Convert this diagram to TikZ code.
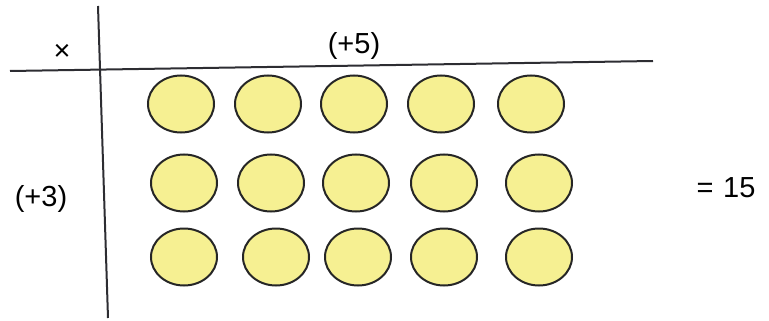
\documentclass[tikz,border=0pt]{standalone}
\usepackage{fontspec}
\setmainfont{Liberation Sans}
\usetikzlibrary{shapes.geometric}
\definecolor{dotyellow}{RGB}{246,240,146}
\definecolor{axisgray}{RGB}{45,45,50}

\begin{document}
\begin{tikzpicture}[
    x=1pt, y=-1pt,
    dot/.style={ellipse, draw=black!85, line width=2pt, fill=dotyellow, minimum width=66pt, minimum height=57pt, inner sep=0pt},
    label/.style={font=\fontsize{29}{33}\selectfont, inner sep=0pt},
    axis/.style={draw=axisgray, line width=2pt}
]
\useasboundingbox (0,0) rectangle (769,321);

% Axes
\coordinate (hleft) at (10,71);
\coordinate (hright) at (653,61);
\coordinate (vtop) at (98,6);
\coordinate (vbottom) at (108,318);
\draw[axis] (hleft) -- (hright);
\draw[axis] (vtop) -- (vbottom);

% Labels
\node[label] (times) at (62,52) {×};
\node[label] (cols) at (354,46) {(+5)};
\node[label] (rows) at (41,199) {(+3)};
\node[label] (result) at (726,188) {=\,\,15};

% Row 1
\node[dot] (a1) at (181,104) {};
\node[dot] (a2) at (268,104) {};
\node[dot] (a3) at (354,104) {};
\node[dot] (a4) at (441,104) {};
\node[dot] (a5) at (531,104) {};

% Row 2
\node[dot] (b1) at (184,183) {};
\node[dot] (b2) at (271,183) {};
\node[dot] (b3) at (356,183) {};
\node[dot] (b4) at (444,183) {};
\node[dot] (b5) at (539,183) {};

% Row 3
\node[dot] (c1) at (184,257) {};
\node[dot] (c2) at (276,257) {};
\node[dot] (c3) at (358,257) {};
\node[dot] (c4) at (444,257) {};
\node[dot] (c5) at (539,257) {};

\end{tikzpicture}
\end{document}
